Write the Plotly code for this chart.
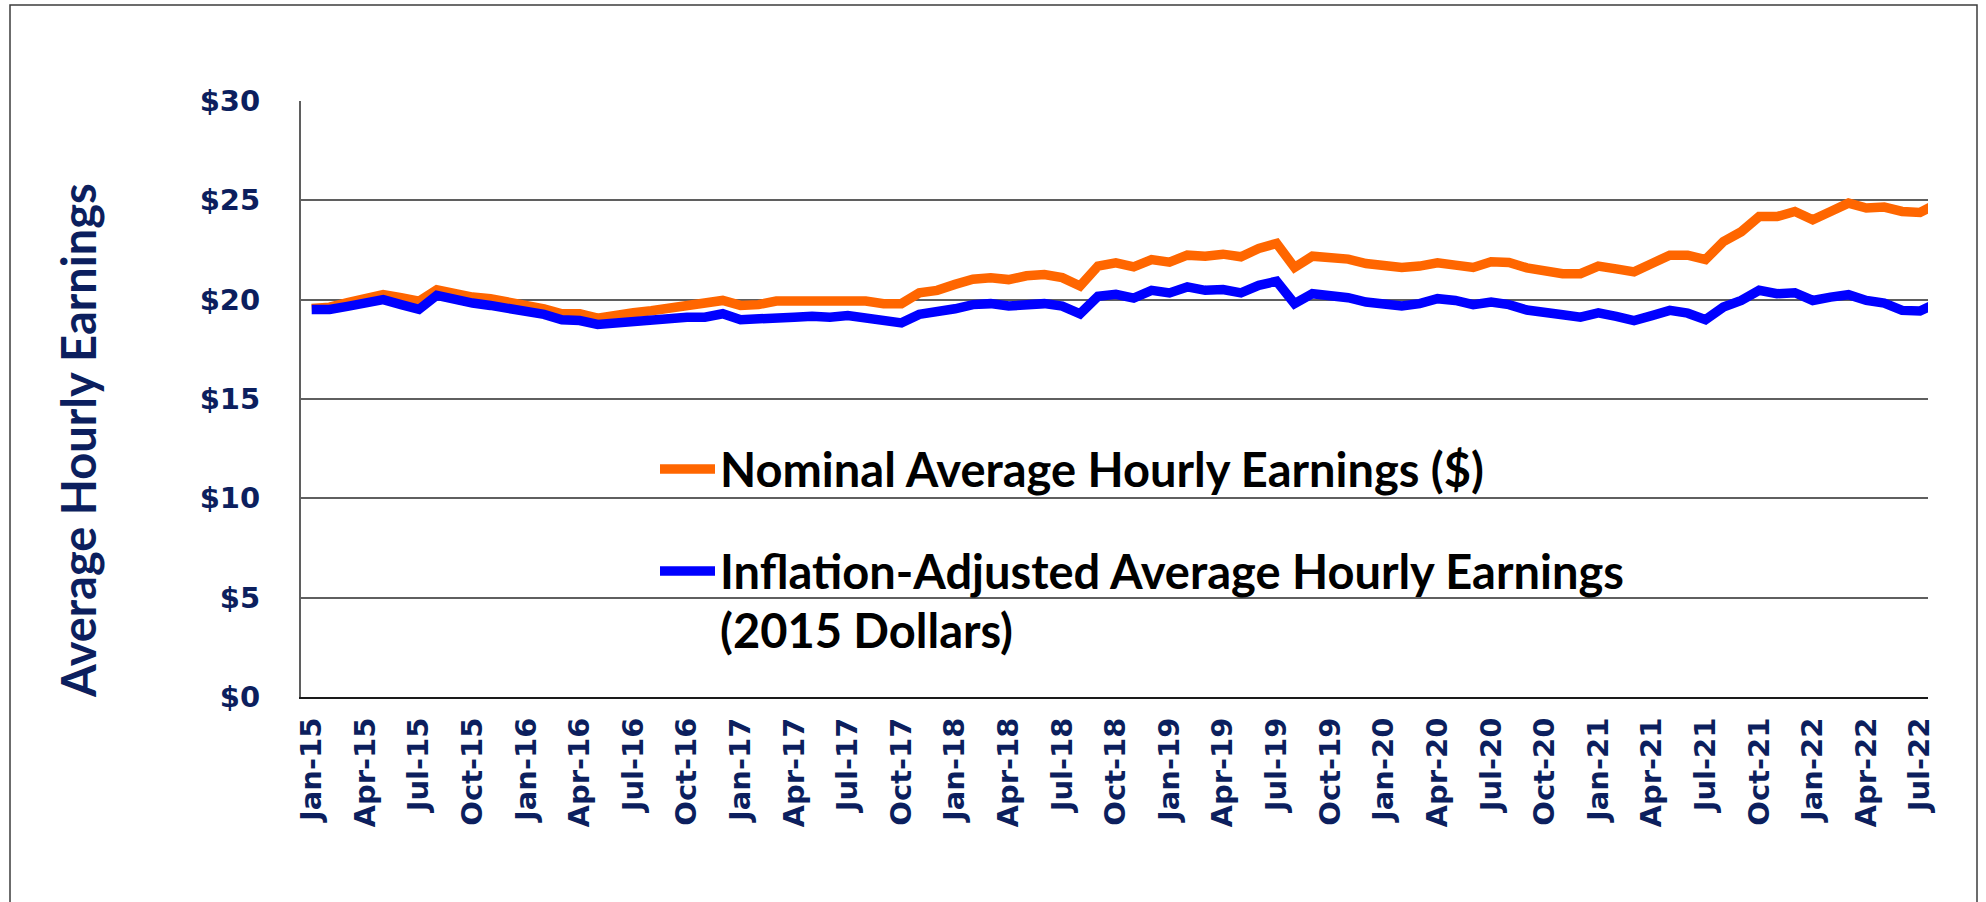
import plotly.graph_objects as go

# ---------------- data ----------------
months = [f"{m}-{y}" for y in range(15, 23) for m in
          ["Jan", "Feb", "Mar", "Apr", "May", "Jun", "Jul", "Aug", "Sep", "Oct", "Nov", "Dec"]][:92]

nominal = [19.55, 19.62, 19.85, 20.05, 20.25, 20.10, 19.92, 20.50, 20.28, 20.13, 20.05, 19.88,
           19.78, 19.54, 19.29, 19.29, 19.07, 19.24, 19.34, 19.44, 19.58, 19.71, 19.75, 19.96,
           19.71, 19.75, 19.93, 19.93, 20.00, 19.93, 20.02, 19.93, 19.80, 19.80, 20.34, 20.47,
           20.77, 21.03, 21.10, 21.01, 21.20, 21.26, 21.11, 20.69, 21.69, 21.85, 21.65, 22.02,
           21.89, 22.24, 22.19, 22.29, 22.16, 22.58, 22.83, 21.62, 22.19, 22.12, 22.04, 21.82,
           21.74, 21.62, 21.69, 21.85, 21.74, 21.62, 21.91, 21.87, 21.60, 21.47, 21.31, 21.31,
           21.69, 21.55, 21.40, 21.82, 22.24, 22.24, 22.02, 22.92, 23.42, 24.18, 24.18, 24.44,
           24.02, 24.44, 24.86, 24.61, 24.66, 24.44, 24.39, 24.85]

real_2015 = [19.51, 19.51, 19.66, 19.83, 20.00, 19.75, 19.51, 20.22, 20.00, 19.83, 19.71, 19.54,
             19.46, 19.26, 18.99, 18.95, 18.75, 18.83, 18.92, 18.95, 19.04, 19.12, 19.12, 19.29,
             18.99, 19.00, 19.12, 19.12, 19.17, 19.12, 19.20, 19.07, 18.87, 18.83, 19.26, 19.34,
             19.54, 19.75, 19.80, 19.68, 19.76, 19.80, 19.68, 19.29, 20.17, 20.27, 20.08, 20.47,
             20.34, 20.64, 20.47, 20.51, 20.34, 20.72, 20.93, 19.80, 20.30, 20.22, 20.10, 19.88,
             19.80, 19.68, 19.80, 20.05, 19.96, 19.75, 19.88, 19.75, 19.48, 19.41, 19.24, 19.12,
             19.34, 19.16, 18.95, 19.20, 19.46, 19.32, 18.99, 19.63, 19.96, 20.47, 20.30, 20.35,
             19.96, 20.13, 20.25, 19.96, 19.83, 19.46, 19.43, 19.85]

tick_labels = months[0:91:3]          # Jan-15, Apr-15, ... Jul-22
y_ticks = [0, 5, 10, 15, 20, 25, 30]

series_names = ["Nominal Average Hourly Earnings ($)",
                "Inflation-Adjusted Average Hourly Earnings"]
series_sub = "(2015 Dollars)"
y_title = "Average Hourly Earnings"

# ---------------- layout geometry ----------------
W, H = 1986, 902
L, R, T, B = 301, 1928, 101, 697
PW, PH = R - L, B - T


def px(x):
    return (x - L) / PW


def py(y):
    return (B - y) / PH


ORANGE = "#FF6600"
BLUE = "#0000FF"
NAVY = "#0C1F5E"

fig = go.Figure()
fig.add_trace(go.Scatter(x=months, y=nominal, mode="lines", name=series_names[0],
                         line=dict(color=ORANGE, width=9.5), hoverinfo="skip"))
fig.add_trace(go.Scatter(x=months, y=real_2015, mode="lines", name=series_names[1],
                         line=dict(color=BLUE, width=9.5), hoverinfo="skip"))

fig.update_layout(
    width=W, height=H,
    margin=dict(l=L, r=W - R, t=T, b=H - B, pad=0),
    paper_bgcolor="white", plot_bgcolor="white",
    showlegend=False,
)

fig.update_xaxes(
    type="category", categoryorder="array", categoryarray=months,
    range=[-0.60, 90.45],
    tickmode="array", tickvals=tick_labels, ticktext=tick_labels,
    tickangle=-90, ticklabelstandoff=7,
    tickfont=dict(family="DejaVu Sans", size=29, color=NAVY, weight="bold"),
    showgrid=False, showline=True, linecolor="#1a1a1a", linewidth=2,
    ticks="", zeroline=False,
)
fig.update_yaxes(
    range=[0, 30], tickmode="array", tickvals=y_ticks,
    ticktext=[f"${v}" for v in y_ticks],
    tickfont=dict(family="DejaVu Sans", size=29, color=NAVY, weight="bold"),
    ticklabelstandoff=33,
    showgrid=True, gridcolor="#5f5f5f", gridwidth=1.5,
    showline=True, linecolor="#5f5f5f", linewidth=2,
    zeroline=False, ticks="",
)

shapes = []
# outer chart border
shapes.append(dict(type="rect", xref="paper", yref="paper",
                   x0=px(10), x1=px(1977), y0=py(912), y1=py(5),
                   line=dict(color="#3c3c3c", width=1.5), fillcolor="rgba(0,0,0,0)", layer="below"))
# legend samples
shapes.append(dict(type="line", xref="paper", yref="paper",
                   x0=px(660), x1=px(715), y0=py(469), y1=py(469),
                   line=dict(color=ORANGE, width=9.5)))
shapes.append(dict(type="line", xref="paper", yref="paper",
                   x0=px(660), x1=px(715), y0=py(571), y1=py(571),
                   line=dict(color=BLUE, width=9.5)))

legend_font = dict(family="Lato", size=47, color="black", weight="bold")
annotations = [
    dict(xref="paper", yref="paper", x=px(718), y=py(469), text=series_names[0],
         showarrow=False, xanchor="left", yanchor="middle", font=legend_font),
    dict(xref="paper", yref="paper", x=px(718), y=py(571), text=series_names[1],
         showarrow=False, xanchor="left", yanchor="middle", font=legend_font),
    dict(xref="paper", yref="paper", x=px(718), y=py(630), text=series_sub,
         showarrow=False, xanchor="left", yanchor="middle", font=legend_font),
    dict(xref="paper", yref="paper", x=px(78), y=py(441), text=y_title, textangle=-90,
         showarrow=False, xanchor="center", yanchor="middle",
         font=dict(family="Lato", size=47, color=NAVY, weight="bold")),
]
fig.update_layout(shapes=shapes, annotations=annotations)

fig.write_html("out.html", config={"displayModeBar": False},
               post_script="document.body.style.margin='0';document.body.style.overflow='hidden';")
